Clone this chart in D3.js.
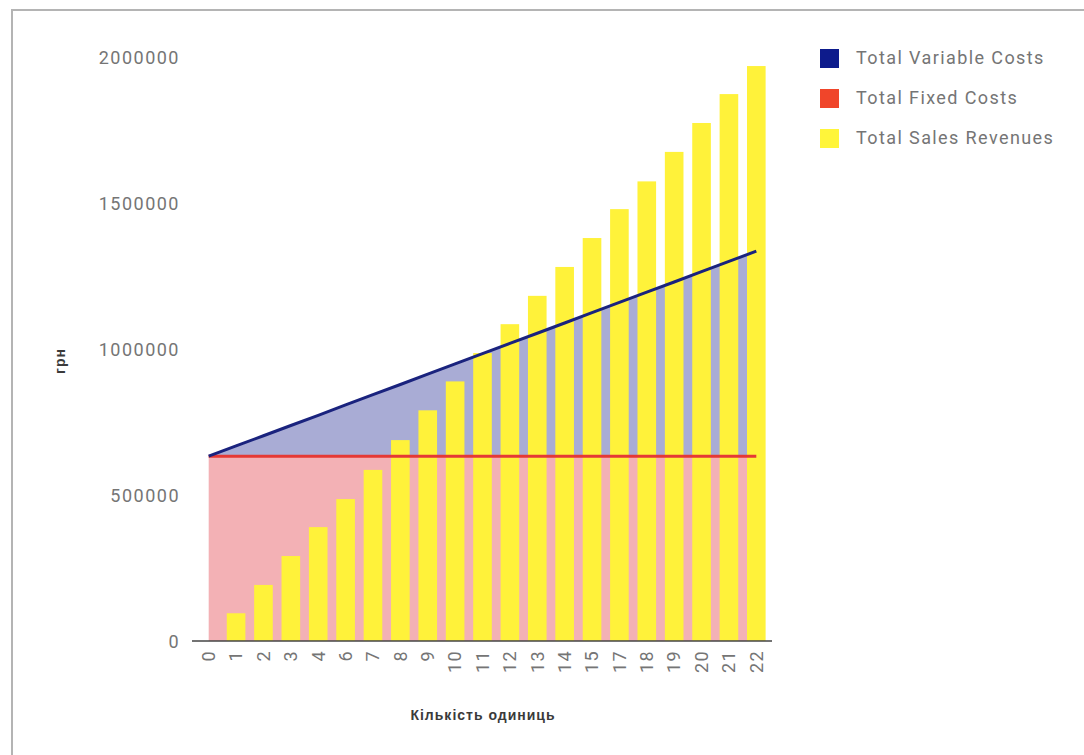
<!DOCTYPE html>
<html>
<head>
<meta charset="utf-8">
<script src="https://cdn.jsdelivr.net/npm/d3@7/dist/d3.min.js"></script>
<style>
  html, body { margin: 0; padding: 0; background: #fff; }
  svg { display: block; }
</style>
</head>
<body>
<svg id="chart" width="1084" height="755"></svg>
<script>
// Quantity labels on the category axis
const categories = ["0","1","2","3","4","6","7","8","9","10","11","12","13","14","15","17","18","19","20","21","22"];

// Cost and revenue series, UAH
const fixedCosts = [633000,633000,633000,633000,633000,633000,633000,633000,633000,633000,633000,
                    633000,633000,633000,633000,633000,633000,633000,633000,633000,633000];
const variableCosts = [0,35000,70000,105000,140000,175500,210500,245500,281000,316000,351000,
                       386000,421000,456000,491500,526500,561500,596500,632000,667000,702000];
const salesRevenues = [0,95000,192000,291000,390000,486000,586000,688000,790000,889000,986000,
                       1085000,1182000,1281000,1380000,1479000,1574000,1675000,1774000,1873000,1969000];

const yTicks = [0, 500000, 1000000, 1500000, 2000000];

const seriesNames = ["Total Variable Costs", "Total Fixed Costs", "Total Sales Revenues"];
const seriesColors = ["#0d1b8c", "#f0452a", "#fff53a"];

const svg = d3.select("#chart");

// outer frame
svg.append("path")
  .attr("d", "M12,755 L12,10 L1084,10")
  .attr("fill", "none")
  .attr("stroke", "#b4b4b4")
  .attr("stroke-width", 2);

const x = d3.scaleBand()
  .domain(categories)
  .range([195, 770])
  .paddingInner(0.32)
  .paddingOuter(0.16);

const y = d3.scaleLinear()
  .domain([0, 2000000])
  .range([641, 57]);

const cx = c => x(c) + x.bandwidth() / 2;

const rows = categories.map((c, i) => ({
  cat: c,
  fixed: fixedCosts[i],
  variable: variableCosts[i],
  revenue: salesRevenues[i]
}));

// stacked cost areas: fixed at the bottom, variable on top
const stack = d3.stack().keys(["fixed", "variable"])(rows);

const area = d3.area()
  .x(d => cx(d.data.cat))
  .y0(d => y(d[0]))
  .y1(d => y(d[1]));

svg.append("path")
  .datum(stack[0])
  .attr("d", area)
  .attr("fill", "#f3b1b5");

svg.append("path")
  .datum(stack[1])
  .attr("d", area)
  .attr("fill", "#a9acd5");

// revenue bars
svg.append("g")
  .selectAll("rect")
  .data(rows)
  .join("rect")
  .attr("x", d => x(d.cat))
  .attr("width", x.bandwidth())
  .attr("y", d => y(d.revenue))
  .attr("height", d => y(0) - y(d.revenue))
  .attr("fill", "#fff23a");

// cost lines
const line = d3.line()
  .x(d => cx(d.data.cat))
  .y(d => y(d[1]));

svg.append("path")
  .datum(stack[0])
  .attr("d", line)
  .attr("fill", "none")
  .attr("stroke", "#e53935")
  .attr("stroke-width", 3);

svg.append("path")
  .datum(stack[1])
  .attr("d", line)
  .attr("fill", "none")
  .attr("stroke", "#1a237e")
  .attr("stroke-width", 3);

// baseline
svg.append("line")
  .attr("x1", 192).attr("x2", 772)
  .attr("y1", y(0)).attr("y2", y(0))
  .attr("stroke", "#444")
  .attr("stroke-width", 1.5);

const labelFont = "Roboto, 'Noto Sans', sans-serif";

// y axis tick labels
const yAxis = d3.axisLeft(y).tickValues(yTicks).tickFormat(d3.format("d")).tickSize(0).tickPadding(0);
const gy = svg.append("g").attr("transform", "translate(180,0)").call(yAxis);
gy.select(".domain").remove();
gy.selectAll("text")
  .attr("fill", "#757575")
  .attr("font-family", labelFont)
  .attr("font-size", 18)
  .attr("letter-spacing", "1.5px")
  .attr("dy", "0.35em");

// x axis tick labels, rotated
const xAxis = d3.axisBottom(x).tickSize(0).tickPadding(0);
const gx = svg.append("g").attr("transform", `translate(0,${y(0) + 9})`).call(xAxis);
gx.select(".domain").remove();
gx.selectAll("text")
  .attr("fill", "#757575")
  .attr("font-family", labelFont)
  .attr("font-size", 18)
  .attr("letter-spacing", "1.4px")
  .attr("text-anchor", "end")
  .attr("transform", "rotate(-90)")
  .attr("x", 0)
  .attr("y", 0)
  .attr("dy", "0.35em");

// axis titles
svg.append("text")
  .attr("x", 483)
  .attr("y", 720)
  .attr("text-anchor", "middle")
  .attr("font-family", "'Liberation Sans', Arial, sans-serif")
  .attr("font-size", 14)
  .attr("font-weight", "bold")
  .attr("letter-spacing", "1px")
  .attr("fill", "#3a3a3a")
  .text("Кількість одиниць");

svg.append("text")
  .attr("transform", "translate(65,361) rotate(-90)")
  .attr("text-anchor", "middle")
  .attr("font-family", "'Liberation Sans', Arial, sans-serif")
  .attr("font-size", 14)
  .attr("font-weight", "bold")
  .attr("letter-spacing", "1px")
  .attr("fill", "#3a3a3a")
  .text("грн");

// legend
const legend = svg.append("g")
  .selectAll("g")
  .data(seriesNames)
  .join("g")
  .attr("transform", (d, i) => `translate(820,${58 + i * 40})`);

legend.append("rect")
  .attr("x", 0).attr("y", -9)
  .attr("width", 19).attr("height", 19)
  .attr("fill", (d, i) => seriesColors[i]);

legend.append("text")
  .attr("x", 36)
  .attr("dy", "0.35em")
  .attr("font-family", labelFont)
  .attr("font-size", 18)
  .attr("letter-spacing", "1.4px")
  .attr("fill", "#757575")
  .text(d => d);
</script>
</body>
</html>
